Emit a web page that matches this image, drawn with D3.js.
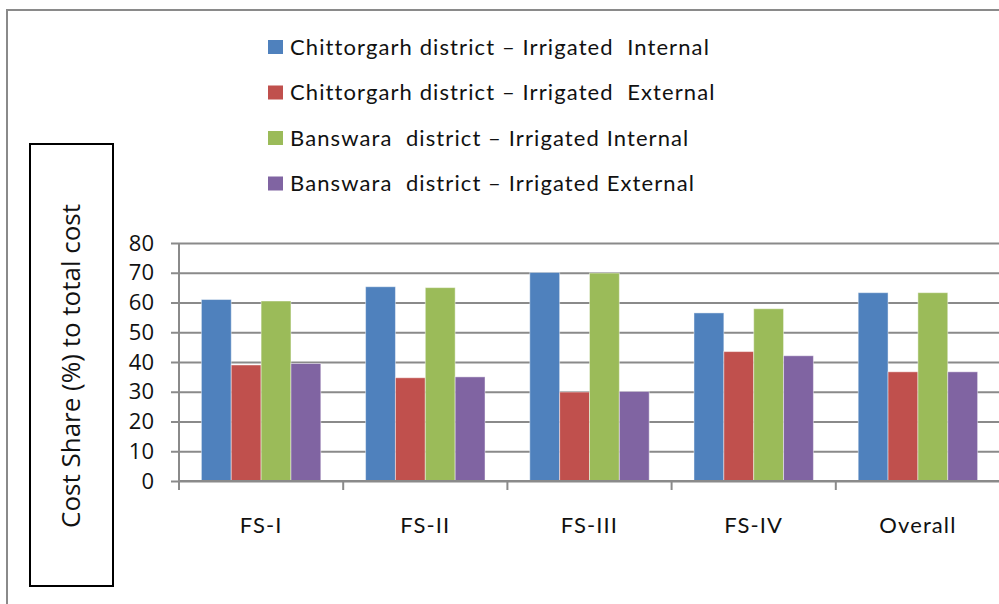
<!DOCTYPE html>
<html>
<head>
<meta charset="utf-8">
<script src="https://cdn.jsdelivr.net/npm/d3@7"></script>
<style>
  body { margin: 0; background: #fff; }
  svg { display: block; }
  .legend text, .cat-label { font-family: Lato, sans-serif; white-space: pre; letter-spacing: 1.1px; }
  .y-tick text, .y-title { font-family: "Open Sans", sans-serif; }
</style>
</head>
<body>
<div id="chart-container"></div>
<script>
const categories = ['FS-I', 'FS-II', 'FS-III', 'FS-IV', 'Overall'];
const seriesNames = [
    'Chittorgarh district \u2013 Irrigated  Internal',
    'Chittorgarh district \u2013 Irrigated  External',
    'Banswara  district \u2013 Irrigated Internal',
    'Banswara  district \u2013 Irrigated External'
];
const chittorgarhInternal = [61.0, 65.3, 70.1, 56.5, 63.3];
const chittorgarhExternal = [39.0, 34.7, 29.9, 43.5, 36.7];
const banswaraInternal = [60.5, 65.0, 69.9, 57.9, 63.3];
const banswaraExternal = [39.5, 35.0, 30.1, 42.1, 36.7];
const yTicks = [0, 10, 20, 30, 40, 50, 60, 70, 80];
const colors = ['#4F81BD', '#C0504D', '#9BBB59', '#8064A2'];

const allSeries = [chittorgarhInternal, chittorgarhExternal, banswaraInternal, banswaraExternal];

const svgWidth = 999;
const svgHeight = 604;

const svg = d3.select('#chart-container')
    .append('svg')
    .attr('width', svgWidth)
    .attr('height', svgHeight);

// outer frame (only top and left visible)
svg.append('path')
    .attr('d', 'M7,604 V10 H999')
    .attr('fill', 'none')
    .attr('stroke', '#8a8a8a')
    .attr('stroke-width', 2);

const plotLeft = 179;
const plotRight = 1000;
const plotTop = 243;
const plotBottom = 481;

const xScale = d3.scaleBand()
    .domain(categories)
    .range([plotLeft, plotRight]);

const xInner = d3.scaleBand()
    .domain(d3.range(allSeries.length))
    .range([0, xScale.bandwidth()])
    .paddingOuter(0.75);

const yScale = d3.scaleLinear()
    .domain([0, 80])
    .range([plotBottom, plotTop]);

// gridlines + y axis
const yAxis = d3.axisLeft(yScale)
    .tickValues(yTicks)
    .tickSize(plotLeft - plotRight)
    .tickSizeOuter(0)
    .tickPadding(0)
    .tickFormat('');

const yGrid = svg.append('g')
    .attr('transform', `translate(${plotLeft}, 0)`)
    .call(yAxis);
yGrid.select('.domain').remove();
yGrid.selectAll('line')
    .attr('x1', -8)
    .attr('stroke', '#8a8a8a')
    .attr('stroke-width', 2);

// y tick labels
svg.append('g')
    .attr('class', 'y-tick')
    .selectAll('text')
    .data(yTicks)
    .enter()
    .append('text')
    .attr('x', 154)
    .attr('y', d => yScale(d))
    .attr('dy', '0.35em')
    .attr('text-anchor', 'end')
    .attr('font-size', 22)
    .attr('fill', '#111')
    .text(d => d);

// bars
const groups = svg.selectAll('.group')
    .data(categories)
    .enter()
    .append('g')
    .attr('class', 'group')
    .attr('transform', d => `translate(${xScale(d)}, 0)`);

groups.selectAll('rect')
    .data((d, i) => allSeries.map((s, j) => ({ series: j, value: s[i] })))
    .enter()
    .append('rect')
    .attr('x', d => xInner(d.series))
    .attr('y', d => yScale(d.value))
    .attr('width', xInner.bandwidth())
    .attr('height', d => plotBottom - yScale(d.value))
    .attr('fill', d => colors[d.series])
    .attr('stroke', '#fff')
    .attr('stroke-opacity', 0.45)
    .attr('stroke-width', 1);

// y axis line
svg.append('line')
    .attr('x1', plotLeft).attr('x2', plotLeft)
    .attr('y1', plotTop).attr('y2', plotBottom)
    .attr('stroke', '#8a8a8a')
    .attr('stroke-width', 2);

// x axis
const xAxis = d3.axisBottom(xScale).tickSize(0).tickFormat('');
const xAxisG = svg.append('g')
    .attr('transform', `translate(0, ${plotBottom})`)
    .call(xAxis);
xAxisG.select('.domain')
    .attr('d', `M${plotLeft},0H${plotRight}`)
    .attr('stroke', '#8a8a8a')
    .attr('stroke-width', 2);

svg.append('g')
    .selectAll('line')
    .data(categories)
    .enter()
    .append('line')
    .attr('x1', d => xScale(d))
    .attr('x2', d => xScale(d))
    .attr('y1', plotBottom)
    .attr('y2', plotBottom + 9)
    .attr('stroke', '#8a8a8a')
    .attr('stroke-width', 2);

svg.append('g')
    .selectAll('text')
    .data(categories)
    .enter()
    .append('text')
    .attr('class', 'cat-label')
    .attr('x', d => xScale(d) + xScale.bandwidth() / 2)
    .attr('y', 533)
    .attr('text-anchor', 'middle')
    .attr('font-size', 22)
    .attr('fill', '#111')
    .text(d => d);

// y title box
svg.append('rect')
    .attr('x', 30)
    .attr('y', 144)
    .attr('width', 83)
    .attr('height', 442)
    .attr('fill', '#fff')
    .attr('stroke', '#000')
    .attr('stroke-width', 2);

svg.append('text')
    .attr('class', 'y-title')
    .attr('transform', 'translate(80, 366) rotate(-90)')
    .attr('text-anchor', 'middle')
    .attr('font-size', 26)
    .attr('fill', '#111')
    .text('Cost Share (%) to total cost');

// legend
const legend = svg.append('g')
    .attr('class', 'legend')
    .selectAll('g')
    .data(seriesNames)
    .enter()
    .append('g')
    .attr('transform', (d, i) => `translate(268, ${47 + i * 45.5})`);

legend.append('rect')
    .attr('x', 0)
    .attr('y', -7)
    .attr('width', 15)
    .attr('height', 14)
    .attr('fill', (d, i) => colors[i]);

legend.append('text')
    .attr('x', 22)
    .attr('y', 0)
    .attr('dy', '0.36em')
    .attr('font-size', 22)
    .attr('fill', '#111')
    .text(d => d);
</script>
</body>
</html>
